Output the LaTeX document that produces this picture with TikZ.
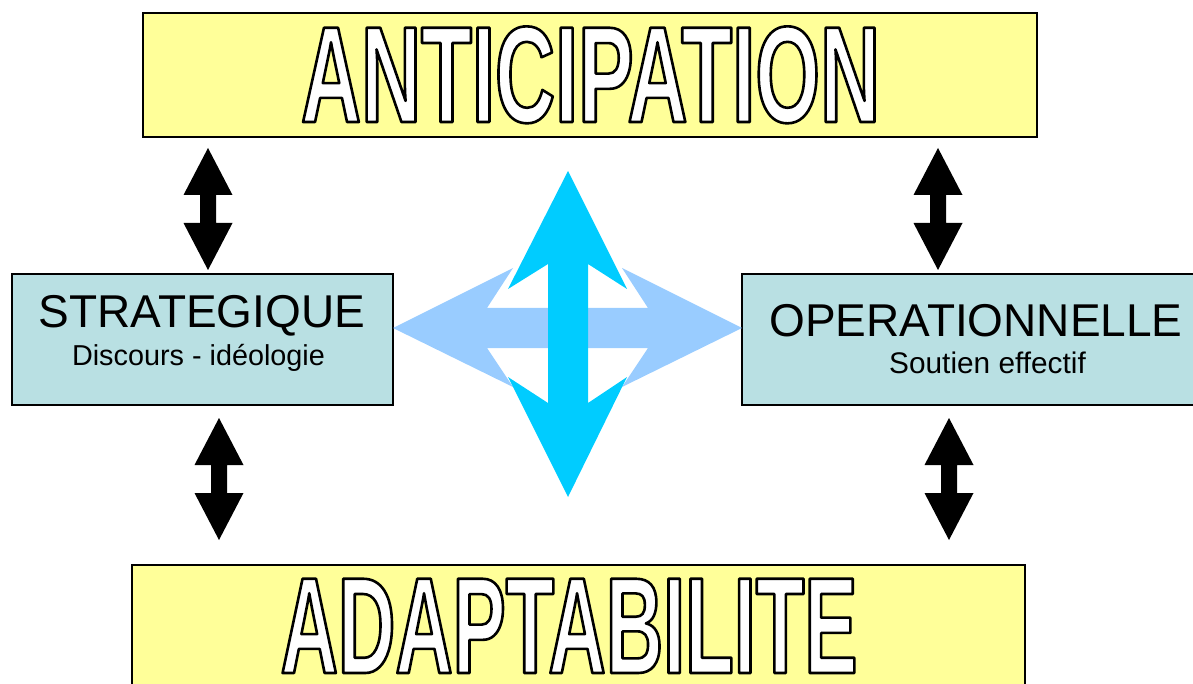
\documentclass[tikz,border=0pt]{standalone}
\usepackage{fontspec}
\setmainfont{Liberation Sans}
\newfontfamily\bigfontA{Liberation Sans}[FakeStretch=0.607]
\newfontfamily\bigfontB{Liberation Sans}[FakeStretch=0.58]
\definecolor{ylw}{HTML}{FFFF99}
\definecolor{boxc}{HTML}{B9E0E3}
\definecolor{lblue}{HTML}{99CCFF}
\definecolor{cyanA}{HTML}{00CCFF}
\newcommand\outlined[1]{\special{pdf:literal direct 2 Tr 2.6 w 0 G 1 j}#1\special{pdf:literal direct 0 Tr}}
\tikzset{
  ybox/.style={draw=black, line width=1.5pt, fill=ylw},
  cbox/.style={draw=black, line width=1.5pt, fill=boxc},
  bigtxt/.style={anchor=base, inner sep=0pt, font=\bfseries\fontsize{137}{137}\selectfont, text=white},
  titletxt/.style={anchor=base, inner sep=0pt, font=\fontsize{46}{50}\selectfont},
  subtxt/.style={anchor=base, inner sep=0pt, font=\fontsize{28.8}{32}\selectfont},
  blk/.style={fill=black},
}
\newcommand\dblarrow[3]{% cx, ytop, shaft length
  \fill[blk] (#1,#2) -- ++(24.5,47) -- ++(-16.5,0) -- ++(0,#3) -- ++(16.5,0)
    -- ++(-24.5,47) -- ++(-24.5,-47) -- ++(16.5,0) -- ++(0,-#3) -- ++(-16.5,0) -- cycle;}
\begin{document}
\begin{tikzpicture}[x=1pt,y=-1pt]
\useasboundingbox (0,0) rectangle (1193,684);
\clip (0,0) rectangle (1193,684);
% big boxes
\draw[ybox] (143,13) rectangle (1037,137);
\draw[ybox] (132,565) rectangle (1025,710);
% side boxes
\draw[cbox] (12,274) rectangle (393,405);
\draw[cbox] (742,274) rectangle (1210,405);
\node[titletxt] (strat) at (202,327) {STRATEGIQUE};
\node[subtxt] (strats) at (198.5,365) {Discours - idéologie};
\node[titletxt] (oper) at (976,336) {OPERATIONNELLE};
\node[subtxt, font=\fontsize{29.8}{32}\selectfont] (opers) at (987.5,373) {Soutien effectif};
% black double arrows
\dblarrow{208}{148}{28}
\dblarrow{219}{418}{28}
\dblarrow{938}{148}{28}
\dblarrow{949}{418}{28}
% central arrows
\fill[lblue] (393,328) -- (513,268) -- (487,308) -- (648,308) -- (622,268) -- (742,328)
  -- (622,387) -- (648,348) -- (487,348) -- (513,387) -- cycle;
\fill[cyanA] (568,171) -- (627,289) -- (588,264) -- (588,403)
  -- (627,377) -- (568,497) -- (508,377) -- (548,403) -- (548,264) -- (508,289) -- cycle;
% big outlined titles
\node[bigtxt] (anttxt) at (590.5,122) {\bigfontA\bfseries\outlined{ANTICIPATION}};
\node[bigtxt] (adatxt) at (569,673) {\bigfontB\bfseries\outlined{ADAPTABILITE}};
\end{tikzpicture}
\end{document}
